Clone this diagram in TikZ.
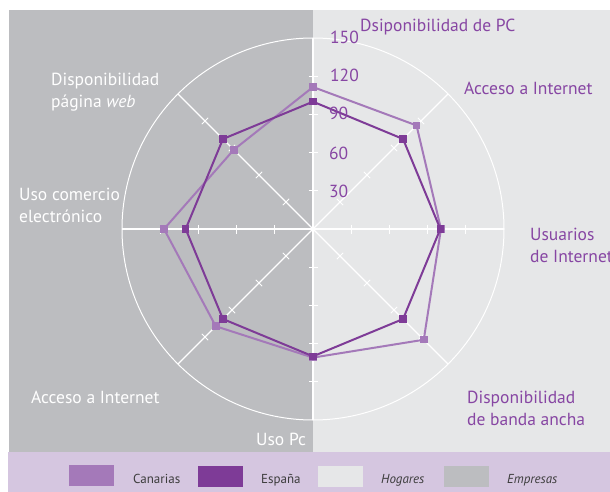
\documentclass[tikz,border=0pt]{standalone}
\usepackage{fontspec}
\setmainfont{PT Sans}
\usetikzlibrary{calc}
\definecolor{empgray}{HTML}{BCBDC0}
\definecolor{hoggray}{HTML}{E6E7E8}
\definecolor{legbg}{HTML}{D5C6E0}
\definecolor{canc}{HTML}{A479B9}
\definecolor{espc}{HTML}{7E3B97}
\definecolor{lbl}{HTML}{8746A3}
\definecolor{legtxt}{HTML}{3C3C3C}
\begin{document}
\begin{tikzpicture}[x=1pt,y=-1pt,
  spoke/.style={white,line width=1.1pt},
  tickmark/.style={white,line width=0.9pt},
  ring/.style={white,line width=1pt},
  canline/.style={canc,line width=2pt,line join=round},
  espline/.style={espc,line width=2pt,line join=round},
  canmark/.style={rectangle,fill=canc,draw=none,minimum size=7.5pt,inner sep=0pt},
  espmark/.style={rectangle,fill=espc,draw=none,minimum size=7.5pt,inner sep=0pt},
  plbl/.style={text=lbl,font=\fontsize{17.5}{21}\selectfont,inner sep=0pt,anchor=base west},
  wlbl/.style={text=white,font=\fontsize{17.5}{21}\selectfont,inner sep=0pt,anchor=base west},
  legbox/.style={rectangle,minimum width=45pt,minimum height=21pt,inner sep=0pt,anchor=north west,draw=none},
  legtext/.style={text=legtxt,font=\fontsize{13}{15}\selectfont,inner sep=0pt,anchor=base west}]
\useasboundingbox (0,0) rectangle (610,492);
\fill[white] (0,0) rectangle (610,492);
\fill[empgray] (9,10) rectangle (313,452);
\fill[hoggray] (313,10) rectangle (610,452);
\fill[legbg] (8,452) rectangle (610,492);
\coordinate (O) at (313,229);
\def\k{1.2733}
\begin{scope}[shift={(O)},y=1pt]
  \draw[ring] (0,0) circle (191);
  \foreach \a in {0,45,...,315} {
    \pgfmathsetmacro{\ap}{\a+90}
    \pgfmathsetmacro{\am}{\a-90}
    \draw[spoke] (0,0) -- (\a:191);
    \foreach \v in {30,60,90,120} {
      \pgfmathsetmacro{\rr}{\v*\k}
      \draw[tickmark] ($(\a:\rr)+(\ap:4.5)$) -- ($(\a:\rr)+(\am:4.5)$);
    }
  }
  % Canarias
  \coordinate (cN)  at (90:{111.5*\k});
  \coordinate (cNE) at (45:{115*\k});
  \coordinate (cE)  at (0:{100.5*\k});
  \coordinate (cSE) at (-45:{123*\k});
  \coordinate (cS)  at (-90:{101*\k});
  \coordinate (cSW) at (-135:{108*\k});
  \coordinate (cW)  at (180:{117*\k});
  \coordinate (cNW) at (135:{88*\k});
  % Espana
  \coordinate (eN)  at (90:{100*\k});
  \coordinate (eNE) at (45:{100*\k});
  \coordinate (eE)  at (0:{100*\k});
  \coordinate (eSE) at (-45:{100*\k});
  \coordinate (eS)  at (-90:{100*\k});
  \coordinate (eSW) at (-135:{100*\k});
  \coordinate (eW)  at (180:{100*\k});
  \coordinate (eNW) at (135:{100*\k});
\end{scope}
\draw[canline] (cN) -- (cNE) -- (cE) -- (cSE) -- (cS) -- (cSW) -- (cW) -- (cNW) -- cycle;
\foreach \p in {N,NE,E,SE,S,SW,W,NW} {\node[canmark] (mc\p) at (c\p) {};}
\draw[espline] (eN) -- (eNE) -- (eE) -- (eSE) -- (eS) -- (eSW) -- (eW) -- (eNW) -- cycle;
\foreach \p in {N,NE,E,SE,S,SW,W,NW} {\node[espmark] (me\p) at (e\p) {};}
% scale labels
\node[plbl] (s150) at (330,44) {150};
\node[plbl] (s120) at (330,82) {120};
\node[plbl] (s90) at (329,120) {90};
\node[plbl] (s60) at (329,159) {60};
\node[plbl] (s30) at (329,197) {30};
% axis labels
\node[plbl] (lpc) at (360,32) {Dsiponibilidad de PC};
\node[plbl] (lacc) at (464,95) {Acceso a Internet};
\node[plbl] (lusu1) at (530,240) {Usuarios};
\node[plbl] (lusu2) at (530,262) {de Internet};
\node[plbl] (lban1) at (467,403) {Disponibilidad};
\node[plbl] (lban2) at (467,425) {de banda ancha};
\node[wlbl] (luso) at (256,445) {Uso Pc};
\node[wlbl] (lacw) at (31,403) {Acceso a Internet};
\node[wlbl] (lcom1) at (19,200) {Uso comercio};
\node[wlbl] (lcom2) at (19,222) {electrónico};
\node[wlbl] (lweb1) at (51,86) {Disponibilidad};
\node[wlbl] (lweb2) at (51,108) {página \textit{web}};
% legend
\node[legbox,fill=canc] (bcan) at (69,465) {};
\node[legtext] (tcan) at (133,483) {Canarias};
\node[legbox,fill=espc] (besp) at (198,466) {};
\node[legtext] (tesp) at (261,483) {España};
\node[legbox,fill=hoggray] (bhog) at (318,466) {};
\node[legtext] (thog) at (381,483) {\textit{Hogares}};
\node[legbox,fill=empgray] (bemp) at (444,466) {};
\node[legtext] (temp) at (507,483) {\textit{Empresas}};
\end{tikzpicture}
\end{document}
